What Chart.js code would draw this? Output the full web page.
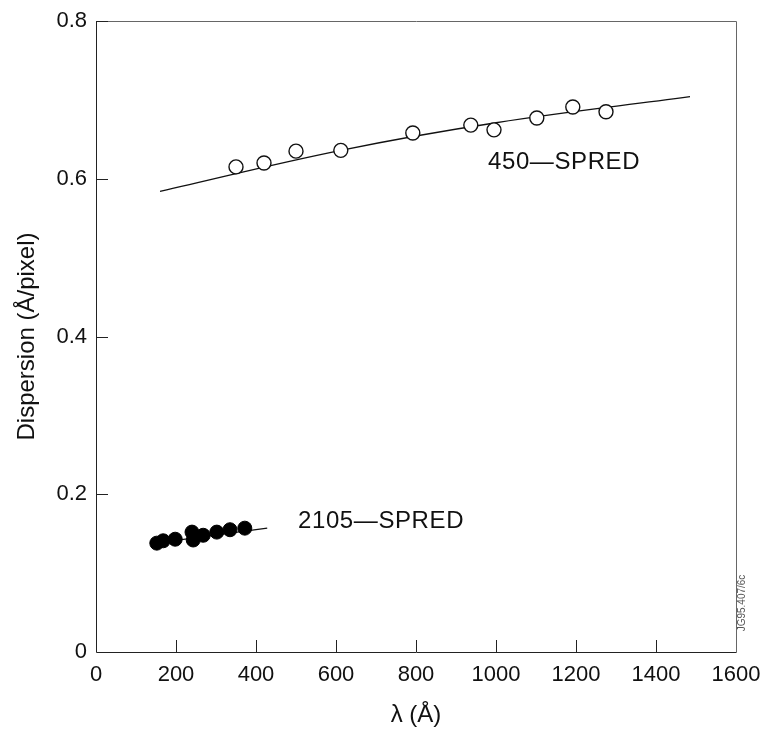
<!DOCTYPE html>
<html lang="en">
<head>
  <meta charset="UTF-8">
  <title>Dispersion vs wavelength</title>
  <script src="https://cdn.jsdelivr.net/npm/chart.js"></script>
  <style>
    html, body { margin: 0; padding: 0; background: #fff; }
    canvas { display: block; }
  </style>
</head>
<body>
  <canvas id="grafico" width="766" height="736"></canvas>

  <script>
    // 450-SPRED measured points (open circles)
    const spred450X = [350, 420, 500, 612, 792, 937, 995, 1102, 1192, 1275];
    const spred450Y = [0.615, 0.620, 0.635, 0.636, 0.658, 0.668, 0.662, 0.677, 0.691, 0.685];
    // 450-SPRED fitted curve
    const fit450X = [160, 612, 1000, 1485];
    const fit450Y = [0.584, 0.636, 0.671, 0.704];

    // 2105-SPRED measured points (filled circles)
    const spred2105X = [152, 168, 198, 240, 243, 268, 302, 335, 372];
    const spred2105Y = [0.138, 0.141, 0.143, 0.152, 0.142, 0.148, 0.152, 0.155, 0.157];
    // 2105-SPRED fitted line
    const fit2105X = [135, 428];
    const fit2105Y = [0.137, 0.157];

    const xTicks = [0, 200, 400, 600, 800, 1000, 1200, 1400, 1600];
    const yTicks = [0, 0.2, 0.4, 0.6, 0.8];

    // curve labels, anchored in data units
    const curveLabels = [
      { text: '450\u2014SPRED', x: 980, y: 0.621 },
      { text: '2105\u2014SPRED', x: 505, y: 0.165 }
    ];

    const pts = (xs, ys) => xs.map((x, i) => ({ x: x, y: ys[i] }));
    const FONT = '"Liberation Sans", Arial, sans-serif';

    // frame, inward ticks and text labels
    const extras = {
      id: 'extras',
      afterDraw(chart) {
        const ctx = chart.ctx;
        const a = chart.chartArea;
        const xs = chart.scales.x, ys = chart.scales.y;
        ctx.save();
        ctx.strokeStyle = '#222';
        ctx.lineWidth = 1;
        ctx.beginPath();
        ctx.moveTo(a.left + 0.5, a.top + 0.5);
        ctx.lineTo(a.left + 0.5, a.bottom + 0.5);
        ctx.lineTo(a.right + 0.5, a.bottom + 0.5);
        ctx.stroke();
        ctx.strokeStyle = '#666';
        ctx.beginPath();
        ctx.moveTo(a.left + 0.5, a.top + 0.5);
        ctx.lineTo(a.right + 0.5, a.top + 0.5);
        ctx.lineTo(a.right + 0.5, a.bottom + 0.5);
        ctx.stroke();

        ctx.strokeStyle = '#222';
        ctx.beginPath();
        xTicks.forEach(v => {
          const px = Math.round(xs.getPixelForValue(v)) + 0.5;
          if (v === 0 || v === 1600) return;
          ctx.moveTo(px, a.bottom);
          ctx.lineTo(px, a.bottom - 12);
        });
        yTicks.forEach(v => {
          const py = Math.round(ys.getPixelForValue(v)) + 0.5;
          if (v === 0) return;
          ctx.moveTo(a.left, py);
          ctx.lineTo(a.left + 12, py);
        });
        ctx.stroke();

        ctx.fillStyle = '#111';
        ctx.font = '24px ' + FONT;
        ctx.letterSpacing = '0.6px';
        ctx.textBaseline = 'middle';
        ctx.textAlign = 'left';
        curveLabels.forEach(l => {
          ctx.fillText(l.text, xs.getPixelForValue(l.x), ys.getPixelForValue(l.y));
        });
        ctx.letterSpacing = '0px';

        ctx.fillStyle = '#555';
        ctx.font = '10px ' + FONT;
        ctx.translate(742, 603);
        ctx.rotate(-Math.PI / 2);
        ctx.textAlign = 'center';
        ctx.fillText('JG95.407/6c', 0, 0);
        ctx.restore();
      }
    };

    const ctx = document.getElementById('grafico').getContext('2d');
    const chart = new Chart(ctx, {
      type: 'scatter',
      data: {
        datasets: [
          {
            label: '450-SPRED',
            data: pts(spred450X, spred450Y),
            pointRadius: 7,
            pointBackgroundColor: '#fff',
            pointBorderColor: '#111',
            pointBorderWidth: 1.4,
            order: 0
          },
          {
            label: '2105-SPRED',
            data: pts(spred2105X, spred2105Y),
            pointRadius: 7,
            pointBackgroundColor: '#000',
            pointBorderColor: '#000',
            pointBorderWidth: 1,
            order: 1
          },
          {
            label: '450 fit',
            data: pts(fit450X, fit450Y),
            showLine: true,
            pointRadius: 0,
            borderColor: '#111',
            borderWidth: 1.3,
            tension: 0.4,
            order: 2
          },
          {
            label: '2105 fit',
            data: pts(fit2105X, fit2105Y),
            showLine: true,
            pointRadius: 0,
            borderColor: '#111',
            borderWidth: 1.3,
            order: 3
          }
        ]
      },
      options: {
        responsive: false,
        animation: false,
        layout: { padding: { left: 0, right: 30, top: 21, bottom: 0 } },
        plugins: {
          legend: { display: false },
          tooltip: { enabled: false }
        },
        scales: {
          x: {
            type: 'linear',
            min: 0,
            max: 1600,
            afterFit: s => { s.height = 84; s.paddingRight = 0; s.paddingLeft = 0; },
            afterBuildTicks: s => { s.ticks = xTicks.map(v => ({ value: v })); },
            grid: { display: false, drawTicks: false },
            border: { display: false },
            ticks: {
              padding: 10,
              color: '#111',
              font: { family: FONT, size: 22 },
              callback: v => String(v)
            },
            title: {
              display: true,
              text: '\u03bb (\u00c5)',
              color: '#111',
              font: { family: FONT, size: 24 },
              padding: { top: 0, bottom: 6 }
            }
          },
          y: {
            type: 'linear',
            min: 0,
            max: 0.8,
            afterFit: s => { s.width = 96; s.paddingTop = 0; s.paddingBottom = 0; },
            afterBuildTicks: s => { s.ticks = yTicks.map(v => ({ value: v })); },
            grid: { display: false, drawTicks: false },
            border: { display: false },
            ticks: {
              padding: 9,
              color: '#111',
              font: { family: FONT, size: 22 },
              callback: v => v === 0 ? '0' : v.toFixed(1)
            },
            title: {
              display: true,
              text: 'Dispersion (\u00c5/pixel)',
              color: '#111',
              font: { family: FONT, size: 24 },
              padding: { top: 13, bottom: 0 }
            }
          }
        }
      },
      plugins: [extras]
    });
  </script>
</body>
</html>
